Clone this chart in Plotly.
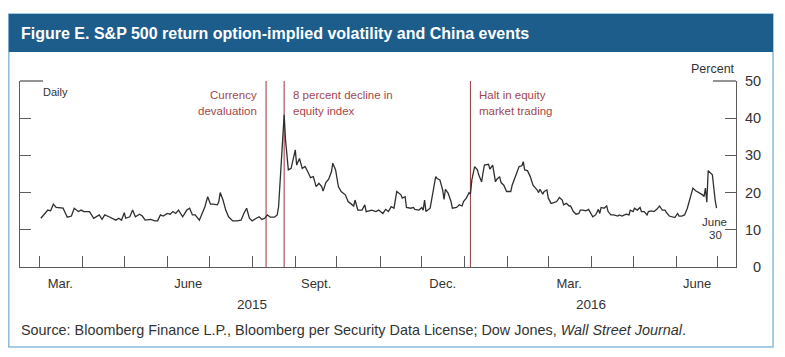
import plotly.graph_objects as go

# ---------------- data ----------------
dates = [
    "2015-03-02", "2015-03-05", "2015-03-07", "2015-03-09", "2015-03-11", "2015-03-13", "2015-03-16",
    "2015-03-18", "2015-03-20", "2015-03-21", "2015-03-24", "2015-03-26", "2015-03-29", "2015-03-31",
    "2015-04-02", "2015-04-06", "2015-04-09", "2015-04-13", "2015-04-15", "2015-04-17", "2015-04-20",
    "2015-04-25", "2015-04-27", "2015-04-29", "2015-05-01", "2015-05-02", "2015-05-05", "2015-05-07",
    "2015-05-09", "2015-05-12", "2015-05-14", "2015-05-16", "2015-05-20", "2015-05-23", "2015-05-25",
    "2015-05-27", "2015-05-29", "2015-06-01", "2015-06-03", "2015-06-05", "2015-06-07", "2015-06-09",
    "2015-06-12", "2015-06-15", "2015-06-17", "2015-06-19", "2015-06-21", "2015-06-24", "2015-06-26",
    "2015-06-28", "2015-06-30", "2015-07-02", "2015-07-04", "2015-07-07", "2015-07-08", "2015-07-09",
    "2015-07-11", "2015-07-13", "2015-07-15", "2015-07-18", "2015-07-21", "2015-07-24", "2015-07-26",
    "2015-07-28", "2015-07-30", "2015-08-01", "2015-08-04", "2015-08-06", "2015-08-08", "2015-08-10",
    "2015-08-12", "2015-08-14", "2015-08-17", "2015-08-19", "2015-08-20", "2015-08-21", "2015-08-24",
    "2015-08-25", "2015-08-26", "2015-08-27", "2015-08-29", "2015-09-01", "2015-09-02", "2015-09-04",
    "2015-09-06", "2015-09-08", "2015-09-10", "2015-09-12", "2015-09-14", "2015-09-16", "2015-09-18",
    "2015-09-20", "2015-09-21", "2015-09-23", "2015-09-25", "2015-09-27", "2015-09-28", "2015-09-30",
    "2015-10-02", "2015-10-04", "2015-10-07", "2015-10-09", "2015-10-12", "2015-10-13", "2015-10-14",
    "2015-10-16", "2015-10-19", "2015-10-21", "2015-10-22", "2015-10-26", "2015-10-29", "2015-10-31",
    "2015-11-03", "2015-11-05", "2015-11-07", "2015-11-09", "2015-11-11", "2015-11-13", "2015-11-16",
    "2015-11-17", "2015-11-19", "2015-11-20", "2015-11-23", "2015-11-25", "2015-11-26", "2015-11-29",
    "2015-12-01", "2015-12-02", "2015-12-03", "2015-12-04", "2015-12-07", "2015-12-09", "2015-12-11",
    "2015-12-12", "2015-12-14", "2015-12-16", "2015-12-17", "2015-12-18", "2015-12-20", "2015-12-22",
    "2015-12-23", "2015-12-26", "2015-12-28", "2015-12-30", "2015-12-31",
    "2016-01-02", "2016-01-04", "2016-01-05", "2016-01-06", "2016-01-08", "2016-01-10", "2016-01-11",
    "2016-01-13", "2016-01-14", "2016-01-15", "2016-01-18", "2016-01-19", "2016-01-21", "2016-01-23",
    "2016-01-24", "2016-01-26", "2016-01-27", "2016-01-29", "2016-01-31", "2016-02-03", "2016-02-04",
    "2016-02-07", "2016-02-09", "2016-02-11", "2016-02-12", "2016-02-13", "2016-02-15", "2016-02-17",
    "2016-02-19", "2016-02-22", "2016-02-23", "2016-02-24", "2016-02-26", "2016-02-27", "2016-02-29",
    "2016-03-01", "2016-03-03", "2016-03-05", "2016-03-07", "2016-03-09", "2016-03-11", "2016-03-12",
    "2016-03-14", "2016-03-16", "2016-03-17", "2016-03-19", "2016-03-21", "2016-03-23", "2016-03-24",
    "2016-03-26", "2016-03-28", "2016-03-30", "2016-04-01", "2016-04-02", "2016-04-04", "2016-04-05",
    "2016-04-06", "2016-04-07", "2016-04-08", "2016-04-10", "2016-04-12", "2016-04-13", "2016-04-15",
    "2016-04-17", "2016-04-20", "2016-04-21", "2016-04-23", "2016-04-26", "2016-04-28", "2016-04-29",
    "2016-05-01", "2016-05-02", "2016-05-04", "2016-05-06", "2016-05-07", "2016-05-09", "2016-05-11",
    "2016-05-12", "2016-05-14", "2016-05-16", "2016-05-18", "2016-05-20", "2016-05-22", "2016-05-24",
    "2016-05-25", "2016-05-27", "2016-05-30", "2016-05-31", "2016-06-02", "2016-06-03", "2016-06-05",
    "2016-06-07", "2016-06-09", "2016-06-11", "2016-06-13", "2016-06-15", "2016-06-17", "2016-06-20",
    "2016-06-21", "2016-06-22", "2016-06-23", "2016-06-24", "2016-06-27", "2016-06-28", "2016-06-29",
    "2016-06-30",
]
volatility = [
    13.1, 14.4, 15.3, 15.1, 16.9, 16.0, 16.0,
    15.8, 14.2, 13.4, 13.7, 15.8, 14.9, 15.3,
    14.9, 14.9, 13.1, 14.0, 12.8, 14.0, 13.5,
    12.6, 13.1, 12.6, 14.6, 13.1, 13.5, 15.3,
    13.5, 14.2, 13.7, 12.6, 12.8, 12.4, 12.4,
    14.0, 13.7, 14.4, 14.2, 14.9, 14.4, 15.3,
    13.5, 15.3, 15.8, 14.0, 14.0, 12.6, 14.4,
    16.2, 18.9, 16.9, 16.9, 16.7, 17.6, 20.0,
    18.0, 15.3, 13.5, 12.4, 12.4, 12.6, 14.4,
    15.8, 13.1, 12.4, 13.1, 13.5, 12.8, 13.1,
    14.0, 13.4, 13.4, 14.0, 16.2, 22.5, 40.9,
    34.1, 28.8, 26.1, 26.5, 31.5, 27.4, 29.2,
    26.5, 27.0, 25.6, 24.0, 24.3, 21.6, 22.5,
    21.6, 20.4, 22.7, 23.6, 25.6, 27.9, 26.1,
    21.6, 20.3, 19.4, 17.6, 16.7, 16.4, 18.0,
    15.3, 15.3, 16.7, 14.9, 15.3, 14.9, 15.3,
    14.4, 15.5, 14.9, 16.2, 15.8, 20.3, 19.4,
    18.5, 18.9, 16.0, 15.8, 16.0, 15.5, 15.3,
    16.0, 15.3, 18.0, 14.9, 15.8, 19.8, 24.3,
    23.8, 23.4, 20.7, 18.2, 20.9, 19.8, 17.6,
    15.8, 16.0, 16.7, 16.4, 17.6,
    18.5, 20.0, 19.6, 23.4, 27.0, 26.1, 24.7,
    22.9, 25.2, 27.4, 27.6, 26.3, 27.4, 22.9,
    23.6, 24.3, 22.7, 22.0, 20.3, 20.3, 22.0,
    25.2, 27.0, 27.2, 28.3, 26.1, 25.9, 24.3,
    22.0, 20.7, 20.0, 20.9, 19.6, 20.3, 20.7,
    18.5, 17.1, 17.3, 17.6, 18.7, 18.0, 16.7,
    17.1, 16.4, 16.4, 14.9, 14.2, 14.4, 15.3,
    15.3, 15.1, 15.5, 14.0, 13.5, 14.0, 14.6,
    15.5, 14.4, 16.0, 15.8, 16.4, 14.9, 14.0,
    14.0, 13.7, 14.0, 13.7, 14.2, 14.0, 15.3,
    14.9, 15.8, 15.3, 16.0, 14.9, 14.9, 14.0,
    14.9, 15.1, 14.9, 15.5, 16.4, 15.3, 15.3,
    14.6, 13.7, 13.3, 13.3, 14.4, 13.7, 13.7,
    14.0, 15.8, 18.9, 21.2, 20.5, 20.0, 19.4,
    18.9, 21.2, 17.4, 25.9, 24.8, 21.0, 18.0,
    15.8,
]

event_dates = ["2015-08-11", "2015-08-24", "2016-01-05"]
event_label_line1 = ["Currency", "8 percent decline in", "Halt in equity"]
event_label_line2 = ["devaluation", "equity index", "market trading"]
event_label_side = ["right", "left", "left"]

month_label_dates = ["2015-03-16", "2015-06-16", "2015-09-16", "2015-12-16", "2016-03-16", "2016-06-16"]
month_labels = ["Mar.", "June", "Sept.", "Dec.", "Mar.", "June"]
year_label_dates = ["2015-08-01", "2016-04-01"]
year_labels = ["2015", "2016"]
y_ticks = [0, 10, 20, 30, 40, 50]
y_tick_labels = ["0", "10", "20", "30", "40", "50"]
x_range = ["2015-02-15", "2016-07-14"]

title_text = "Figure E. S&P 500 return option-implied volatility and China events"
source_text = ("Source: Bloomberg Finance L.P., Bloomberg per Security Data License; "
               "Dow Jones, <i>Wall Street Journal</i>.")

# ---------------- layout geometry ----------------
OFF = 8                       # page body margin
W, H = 785 - OFF, 357 - OFF
L, R, T, B = 12, 49, 73, 90
PW, PH = W - L - R, H - T - B


def px_x(x):  # reference page pixel -> paper
    return (x - OFF - L) / PW


def px_y(y):
    return (H - B - (y - OFF)) / PH


FONT = "Liberation Sans, Arial, sans-serif"
AXIS = "#5a5a5a"
RED = "#a3484c"
TXT = "#333333"

fig = go.Figure()
fig.add_trace(go.Scatter(x=dates, y=volatility, mode="lines",
                         line=dict(color="#2f2f2f", width=1.3), hoverinfo="skip",
                         showlegend=False))

shapes = []
shapes.append(dict(type="rect", xref="paper", yref="paper", x0=px_x(8.8), x1=px_x(773),
                   y0=px_y(347), y1=px_y(14), line=dict(color="#8bbbd9", width=1.5),
                   fillcolor="rgba(0,0,0,0)", layer="below"))
shapes.append(dict(type="rect", xref="paper", yref="paper", x0=px_x(8.8), x1=px_x(773),
                   y0=px_y(52), y1=px_y(14), line=dict(width=0), fillcolor="#1d5d8c",
                   layer="below"))
shapes.append(dict(type="line", xref="paper", yref="paper", x0=0, x1=px_x(43), y0=1, y1=1,
                   line=dict(color=AXIS, width=1.3)))
shapes.append(dict(type="line", xref="paper", yref="paper", x0=px_x(713), x1=1, y0=1, y1=1,
                   line=dict(color=AXIS, width=1.3)))
for d in event_dates:
    shapes.append(dict(type="line", xref="x", yref="paper", x0=d, x1=d, y0=0, y1=1,
                       line=dict(color=RED, width=1.1), layer="below"))

annotations = []
annotations.append(dict(text="<b>" + title_text + "</b>", xref="paper", yref="paper",
                        x=px_x(19), y=px_y(33), xanchor="left", yanchor="middle",
                        showarrow=False, font=dict(family=FONT, size=16, color="white")))
annotations.append(dict(text=source_text, xref="paper", yref="paper",
                        x=px_x(19), y=px_y(330), xanchor="left", yanchor="middle",
                        showarrow=False, font=dict(family=FONT, size=14.4, color=TXT)))
annotations.append(dict(text="Daily", xref="paper", yref="paper", x=px_x(41), y=px_y(92),
                        xanchor="left", yanchor="middle", showarrow=False,
                        font=dict(family=FONT, size=11, color=TXT)))
annotations.append(dict(text="Percent", xref="paper", yref="paper", x=px_x(737), y=px_y(69),
                        xanchor="right", yanchor="middle", showarrow=False,
                        font=dict(family=FONT, size=12.5, color=TXT)))
annotations.append(dict(text="June", xref="x", yref="paper", x=dates[-1], xshift=-2,
                        y=px_y(222), xanchor="center", yanchor="middle", showarrow=False,
                        font=dict(family=FONT, size=11.5, color=TXT)))
annotations.append(dict(text="30", xref="x", yref="paper", x=dates[-1], xshift=-1,
                        y=px_y(235), xanchor="center", yanchor="middle", showarrow=False,
                        font=dict(family=FONT, size=11.5, color=TXT)))
for d, l1, l2, side in zip(event_dates, event_label_line1, event_label_line2, event_label_side):
    for txt, yy in ((l1, 95), (l2, 111)):
        annotations.append(dict(text=txt, xref="x", yref="paper", x=d,
                                xshift=(-7 if side == "right" else 7),
                                y=px_y(yy), xanchor=side, yanchor="middle",
                                showarrow=False, font=dict(family=FONT, size=11.5, color=RED)))
for v, t in zip(y_ticks, y_tick_labels):
    annotations.append(dict(text=t, xref="paper", yref="y", x=px_x(763), y=v,
                            xanchor="right", yanchor="middle", showarrow=False,
                            font=dict(family=FONT, size=14.5, color=TXT)))
for d, t in zip(year_label_dates, year_labels):
    annotations.append(dict(text=t, xref="x", yref="paper", x=d, y=px_y(304),
                            xanchor="center", yanchor="middle", showarrow=False,
                            font=dict(family=FONT, size=13.5, color=TXT)))

fig.update_layout(
    width=W, height=H, margin=dict(l=L, r=R, t=T, b=B, pad=0),
    paper_bgcolor="white", plot_bgcolor="white",
    shapes=shapes, annotations=annotations, showlegend=False,
    xaxis=dict(type="date", range=x_range, showgrid=False, zeroline=False,
               showline=True, linecolor=AXIS, linewidth=1.3,
               tickmode="array", tickvals=month_label_dates, ticktext=month_labels,
               ticks="", ticklabelstandoff=4,
               tickfont=dict(family=FONT, size=13, color=TXT),
               minor=dict(tickmode="linear", tick0="2015-03-01", dtick="M1",
                          ticks="inside", ticklen=11, tickcolor=AXIS, tickwidth=1.3,
                          showgrid=False)),
    yaxis=dict(range=[0, 50], side="right", showgrid=False, zeroline=False,
               showline=True, linecolor=AXIS, linewidth=1.3, mirror="ticks",
               tickmode="array", tickvals=y_ticks, ticks="inside", ticklen=11,
               tickcolor=AXIS, tickwidth=1.3, showticklabels=False),
)

fig.write_html("out.html")
